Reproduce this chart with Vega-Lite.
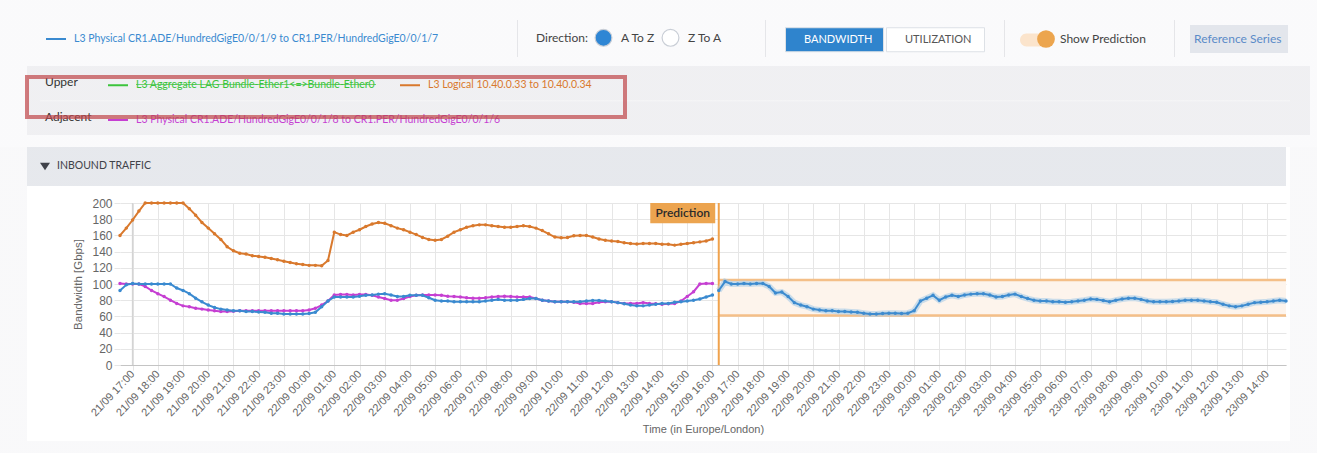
{
  "$schema": "https://vega.github.io/schema/vega-lite/v6.json",
  "width": 1166,
  "height": 162,
  "autosize": {"type": "none"},
  "padding": {"left": 120, "top": 203, "right": 31, "bottom": 88},
  "background": "#ffffff",
  "config": {
    "view": {"stroke": null},
    "axis": {"labelFont": "Liberation Sans", "titleFont": "Liberation Sans", "labelColor": "#666666", "titleColor": "#666666", "gridColor": "#e6e6e6", "tickColor": "#e6e6e6", "domainColor": "#c4c4c4", "titleFontWeight": "normal", "labelOverlap": false},
    "legend": {"labelFont": "Lato", "titleFont": "Lato", "padding": 0, "rowPadding": 0, "labelLimit": 1000, "titleLimit": 1000, "zindex": 1, "symbolOpacity": 1}
  },
  "datasets": {
    "hist": [
      {"t":"2023-09-21 16:30","logical":160,"physical":92,"adjacent":100.5},
      {"t":"2023-09-21 16:45","logical":169,"physical":99,"adjacent":100},
      {"t":"2023-09-21 17:00","logical":179,"physical":100.5,"adjacent":100},
      {"t":"2023-09-21 17:15","logical":190,"physical":100,"adjacent":100},
      {"t":"2023-09-21 17:30","logical":200,"physical":100,"adjacent":97},
      {"t":"2023-09-21 17:45","logical":200,"physical":100,"adjacent":92},
      {"t":"2023-09-21 18:00","logical":200,"physical":100,"adjacent":88},
      {"t":"2023-09-21 18:15","logical":200,"physical":100,"adjacent":84.5},
      {"t":"2023-09-21 18:30","logical":200,"physical":100,"adjacent":80},
      {"t":"2023-09-21 18:45","logical":200,"physical":95,"adjacent":76},
      {"t":"2023-09-21 19:00","logical":200,"physical":92,"adjacent":73},
      {"t":"2023-09-21 19:15","logical":193,"physical":88,"adjacent":72},
      {"t":"2023-09-21 19:30","logical":185,"physical":82.5,"adjacent":70},
      {"t":"2023-09-21 19:45","logical":176,"physical":78,"adjacent":69},
      {"t":"2023-09-21 20:00","logical":169,"physical":74,"adjacent":68},
      {"t":"2023-09-21 20:15","logical":162,"physical":71,"adjacent":67},
      {"t":"2023-09-21 20:30","logical":155,"physical":69,"adjacent":66},
      {"t":"2023-09-21 20:45","logical":146,"physical":68,"adjacent":66},
      {"t":"2023-09-21 21:00","logical":141,"physical":67,"adjacent":66.5},
      {"t":"2023-09-21 21:15","logical":138,"physical":67,"adjacent":67},
      {"t":"2023-09-21 21:30","logical":137,"physical":66,"adjacent":67},
      {"t":"2023-09-21 21:45","logical":135,"physical":66,"adjacent":67},
      {"t":"2023-09-21 22:00","logical":134,"physical":65.5,"adjacent":67},
      {"t":"2023-09-21 22:15","logical":133,"physical":65,"adjacent":67},
      {"t":"2023-09-21 22:30","logical":131.5,"physical":64,"adjacent":67},
      {"t":"2023-09-21 22:45","logical":130,"physical":64,"adjacent":67},
      {"t":"2023-09-21 23:00","logical":128,"physical":63,"adjacent":67},
      {"t":"2023-09-21 23:15","logical":126.5,"physical":63,"adjacent":67},
      {"t":"2023-09-21 23:30","logical":125,"physical":63,"adjacent":67},
      {"t":"2023-09-21 23:45","logical":124,"physical":63,"adjacent":67},
      {"t":"2023-09-22 00:00","logical":123,"physical":63.5,"adjacent":68},
      {"t":"2023-09-22 00:15","logical":123,"physical":65,"adjacent":70},
      {"t":"2023-09-22 00:30","logical":122.5,"physical":72,"adjacent":74},
      {"t":"2023-09-22 00:45","logical":129,"physical":79,"adjacent":79},
      {"t":"2023-09-22 01:00","logical":164,"physical":84,"adjacent":86.5},
      {"t":"2023-09-22 01:15","logical":161,"physical":84,"adjacent":87},
      {"t":"2023-09-22 01:30","logical":160,"physical":84,"adjacent":87},
      {"t":"2023-09-22 01:45","logical":164,"physical":84,"adjacent":86.5},
      {"t":"2023-09-22 02:00","logical":167,"physical":85,"adjacent":87},
      {"t":"2023-09-22 02:15","logical":171,"physical":86,"adjacent":87},
      {"t":"2023-09-22 02:30","logical":174,"physical":86.5,"adjacent":86},
      {"t":"2023-09-22 02:45","logical":176,"physical":87.5,"adjacent":84},
      {"t":"2023-09-22 03:00","logical":175,"physical":88,"adjacent":82},
      {"t":"2023-09-22 03:15","logical":172,"physical":86.5,"adjacent":80},
      {"t":"2023-09-22 03:30","logical":169,"physical":84.5,"adjacent":80},
      {"t":"2023-09-22 03:45","logical":167,"physical":84.5,"adjacent":82},
      {"t":"2023-09-22 04:00","logical":164,"physical":86,"adjacent":84.5},
      {"t":"2023-09-22 04:15","logical":161,"physical":86,"adjacent":86},
      {"t":"2023-09-22 04:30","logical":157.5,"physical":86,"adjacent":86.5},
      {"t":"2023-09-22 04:45","logical":155,"physical":83,"adjacent":86.5},
      {"t":"2023-09-22 05:00","logical":154,"physical":80,"adjacent":86.5},
      {"t":"2023-09-22 05:15","logical":155,"physical":79,"adjacent":86},
      {"t":"2023-09-22 05:30","logical":159,"physical":79,"adjacent":85},
      {"t":"2023-09-22 05:45","logical":164,"physical":78,"adjacent":84.5},
      {"t":"2023-09-22 06:00","logical":167,"physical":78,"adjacent":84},
      {"t":"2023-09-22 06:15","logical":170,"physical":78,"adjacent":83},
      {"t":"2023-09-22 06:30","logical":172,"physical":78,"adjacent":82.5},
      {"t":"2023-09-22 06:45","logical":173,"physical":78,"adjacent":82.5},
      {"t":"2023-09-22 07:00","logical":173,"physical":79,"adjacent":83},
      {"t":"2023-09-22 07:15","logical":172,"physical":80,"adjacent":84},
      {"t":"2023-09-22 07:30","logical":171,"physical":81,"adjacent":84.5},
      {"t":"2023-09-22 07:45","logical":170,"physical":80,"adjacent":85},
      {"t":"2023-09-22 08:00","logical":170,"physical":80,"adjacent":84.5},
      {"t":"2023-09-22 08:15","logical":171,"physical":80,"adjacent":84},
      {"t":"2023-09-22 08:30","logical":172,"physical":81,"adjacent":84},
      {"t":"2023-09-22 08:45","logical":171,"physical":82,"adjacent":84},
      {"t":"2023-09-22 09:00","logical":169,"physical":82,"adjacent":82},
      {"t":"2023-09-22 09:15","logical":166,"physical":80,"adjacent":80},
      {"t":"2023-09-22 09:30","logical":162,"physical":79,"adjacent":79},
      {"t":"2023-09-22 09:45","logical":158,"physical":78,"adjacent":78},
      {"t":"2023-09-22 10:00","logical":157,"physical":78,"adjacent":78},
      {"t":"2023-09-22 10:15","logical":157.5,"physical":78,"adjacent":78},
      {"t":"2023-09-22 10:30","logical":159.5,"physical":78,"adjacent":77.5},
      {"t":"2023-09-22 10:45","logical":160,"physical":78,"adjacent":76},
      {"t":"2023-09-22 11:00","logical":160,"physical":79,"adjacent":76},
      {"t":"2023-09-22 11:15","logical":158,"physical":79.5,"adjacent":76},
      {"t":"2023-09-22 11:30","logical":155.5,"physical":79.5,"adjacent":77.5},
      {"t":"2023-09-22 11:45","logical":154,"physical":79,"adjacent":78},
      {"t":"2023-09-22 12:00","logical":153,"physical":78,"adjacent":78},
      {"t":"2023-09-22 12:15","logical":152.5,"physical":77,"adjacent":77},
      {"t":"2023-09-22 12:30","logical":151,"physical":75.5,"adjacent":76},
      {"t":"2023-09-22 12:45","logical":150,"physical":74,"adjacent":76},
      {"t":"2023-09-22 13:00","logical":149.5,"physical":73,"adjacent":76},
      {"t":"2023-09-22 13:15","logical":150,"physical":73,"adjacent":77},
      {"t":"2023-09-22 13:30","logical":150,"physical":74,"adjacent":76},
      {"t":"2023-09-22 13:45","logical":150,"physical":75,"adjacent":75.5},
      {"t":"2023-09-22 14:00","logical":149,"physical":76,"adjacent":75},
      {"t":"2023-09-22 14:15","logical":149,"physical":76,"adjacent":75.5},
      {"t":"2023-09-22 14:30","logical":148,"physical":77.5,"adjacent":76},
      {"t":"2023-09-22 14:45","logical":149,"physical":78,"adjacent":79},
      {"t":"2023-09-22 15:00","logical":150,"physical":79,"adjacent":84.5},
      {"t":"2023-09-22 15:15","logical":151,"physical":80,"adjacent":90.5},
      {"t":"2023-09-22 15:30","logical":152,"physical":81.5,"adjacent":100},
      {"t":"2023-09-22 15:45","logical":153,"physical":84,"adjacent":100.5},
      {"t":"2023-09-22 16:00","logical":155.5,"physical":86.5,"adjacent":100.5}
    ],
    "pred": [
      {"t":"2023-09-22 16:15","v":92},{"t":"2023-09-22 16:30","v":103},{"t":"2023-09-22 16:45","v":100},{"t":"2023-09-22 17:00","v":100},
      {"t":"2023-09-22 17:15","v":100.5},{"t":"2023-09-22 17:30","v":100},{"t":"2023-09-22 17:45","v":100.5},{"t":"2023-09-22 18:00","v":100.5},
      {"t":"2023-09-22 18:15","v":97},{"t":"2023-09-22 18:30","v":89},{"t":"2023-09-22 18:45","v":90},{"t":"2023-09-22 19:00","v":84.5},
      {"t":"2023-09-22 19:15","v":77},{"t":"2023-09-22 19:30","v":74},{"t":"2023-09-22 19:45","v":72},{"t":"2023-09-22 20:00","v":69},
      {"t":"2023-09-22 20:15","v":68},{"t":"2023-09-22 20:30","v":67},{"t":"2023-09-22 20:45","v":67},{"t":"2023-09-22 21:00","v":66},
      {"t":"2023-09-22 21:15","v":66},{"t":"2023-09-22 21:30","v":65.5},{"t":"2023-09-22 21:45","v":65},{"t":"2023-09-22 22:00","v":64},
      {"t":"2023-09-22 22:15","v":63},{"t":"2023-09-22 22:30","v":63},{"t":"2023-09-22 22:45","v":63.5},{"t":"2023-09-22 23:00","v":64},
      {"t":"2023-09-22 23:15","v":64},{"t":"2023-09-22 23:30","v":63.5},{"t":"2023-09-22 23:45","v":64},
      {"t":"2023-09-23 00:00","v":67},{"t":"2023-09-23 00:15","v":79},{"t":"2023-09-23 00:30","v":82.5},{"t":"2023-09-23 00:45","v":86},
      {"t":"2023-09-23 01:00","v":80},{"t":"2023-09-23 01:15","v":84},{"t":"2023-09-23 01:30","v":86},{"t":"2023-09-23 01:45","v":84.5},
      {"t":"2023-09-23 02:00","v":86.5},{"t":"2023-09-23 02:15","v":87.5},{"t":"2023-09-23 02:30","v":88},{"t":"2023-09-23 02:45","v":88},
      {"t":"2023-09-23 03:00","v":86.5},{"t":"2023-09-23 03:15","v":84},{"t":"2023-09-23 03:30","v":84.5},{"t":"2023-09-23 03:45","v":86.5},
      {"t":"2023-09-23 04:00","v":87.5},{"t":"2023-09-23 04:15","v":84.5},{"t":"2023-09-23 04:30","v":82},{"t":"2023-09-23 04:45","v":80},
      {"t":"2023-09-23 05:00","v":79},{"t":"2023-09-23 05:15","v":79},{"t":"2023-09-23 05:30","v":78},{"t":"2023-09-23 05:45","v":78},
      {"t":"2023-09-23 06:00","v":77.5},{"t":"2023-09-23 06:15","v":78},{"t":"2023-09-23 06:30","v":79},{"t":"2023-09-23 06:45","v":80},
      {"t":"2023-09-23 07:00","v":81.5},{"t":"2023-09-23 07:15","v":81},{"t":"2023-09-23 07:30","v":79.5},{"t":"2023-09-23 07:45","v":78},
      {"t":"2023-09-23 08:00","v":80},{"t":"2023-09-23 08:15","v":81.5},{"t":"2023-09-23 08:30","v":82.5},{"t":"2023-09-23 08:45","v":82.5},
      {"t":"2023-09-23 09:00","v":81},{"t":"2023-09-23 09:15","v":79},{"t":"2023-09-23 09:30","v":78},{"t":"2023-09-23 09:45","v":78},
      {"t":"2023-09-23 10:00","v":78},{"t":"2023-09-23 10:15","v":78.5},{"t":"2023-09-23 10:30","v":79},{"t":"2023-09-23 10:45","v":80},
      {"t":"2023-09-23 11:00","v":80},{"t":"2023-09-23 11:15","v":80},{"t":"2023-09-23 11:30","v":79},{"t":"2023-09-23 11:45","v":78},
      {"t":"2023-09-23 12:00","v":77.5},{"t":"2023-09-23 12:15","v":75},{"t":"2023-09-23 12:30","v":73},{"t":"2023-09-23 12:45","v":72},
      {"t":"2023-09-23 13:00","v":73},{"t":"2023-09-23 13:15","v":75},{"t":"2023-09-23 13:30","v":77},{"t":"2023-09-23 13:45","v":77.5},
      {"t":"2023-09-23 14:00","v":78},{"t":"2023-09-23 14:15","v":79},{"t":"2023-09-23 14:30","v":80},{"t":"2023-09-23 14:45","v":79}
    ],
    "band": [{"start":"2023-09-22 16:15","end":"2023-09-23 14:45","upper":105,"lower":61}],
    "marker": [{"t":"2023-09-22 16:15","label":"Prediction"}]
  },
  "layer": [
    {
      "data": {"name": "band"},
      "mark": {"type": "rect", "fill": "#fdf4ec", "stroke": null},
      "encoding": {
        "x": {"field": "start", "type": "temporal", "title": "Time (in Europe/London)",
          "scale": {"domain": [{"year":2023,"month":9,"date":21,"hours":16,"minutes":30},{"year":2023,"month":9,"date":23,"hours":14,"minutes":45}]},
          "axis": {"format": "%d/%m %H:%M", "labelAngle": -47, "labelAlign": "right", "labelBaseline": "middle", "labelFontSize": 11, "labelPadding": 2, "tickSize": 5, "tickCount": 200, "grid": true, "labelOverlap": false, "labelFlush": false, "labelBound": false, "titleFontSize": 11, "titlePadding": 6, "domainColor": "#c4c4c4",
            "values": [
              {"year":2023,"month":9,"date":21,"hours":17},{"year":2023,"month":9,"date":21,"hours":18},{"year":2023,"month":9,"date":21,"hours":19},{"year":2023,"month":9,"date":21,"hours":20},{"year":2023,"month":9,"date":21,"hours":21},{"year":2023,"month":9,"date":21,"hours":22},{"year":2023,"month":9,"date":21,"hours":23},
              {"year":2023,"month":9,"date":22,"hours":0},{"year":2023,"month":9,"date":22,"hours":1},{"year":2023,"month":9,"date":22,"hours":2},{"year":2023,"month":9,"date":22,"hours":3},{"year":2023,"month":9,"date":22,"hours":4},{"year":2023,"month":9,"date":22,"hours":5},{"year":2023,"month":9,"date":22,"hours":6},{"year":2023,"month":9,"date":22,"hours":7},{"year":2023,"month":9,"date":22,"hours":8},{"year":2023,"month":9,"date":22,"hours":9},{"year":2023,"month":9,"date":22,"hours":10},{"year":2023,"month":9,"date":22,"hours":11},{"year":2023,"month":9,"date":22,"hours":12},{"year":2023,"month":9,"date":22,"hours":13},{"year":2023,"month":9,"date":22,"hours":14},{"year":2023,"month":9,"date":22,"hours":15},{"year":2023,"month":9,"date":22,"hours":16},{"year":2023,"month":9,"date":22,"hours":17},{"year":2023,"month":9,"date":22,"hours":18},{"year":2023,"month":9,"date":22,"hours":19},{"year":2023,"month":9,"date":22,"hours":20},{"year":2023,"month":9,"date":22,"hours":21},{"year":2023,"month":9,"date":22,"hours":22},{"year":2023,"month":9,"date":22,"hours":23},
              {"year":2023,"month":9,"date":23,"hours":0},{"year":2023,"month":9,"date":23,"hours":1},{"year":2023,"month":9,"date":23,"hours":2},{"year":2023,"month":9,"date":23,"hours":3},{"year":2023,"month":9,"date":23,"hours":4},{"year":2023,"month":9,"date":23,"hours":5},{"year":2023,"month":9,"date":23,"hours":6},{"year":2023,"month":9,"date":23,"hours":7},{"year":2023,"month":9,"date":23,"hours":8},{"year":2023,"month":9,"date":23,"hours":9},{"year":2023,"month":9,"date":23,"hours":10},{"year":2023,"month":9,"date":23,"hours":11},{"year":2023,"month":9,"date":23,"hours":12},{"year":2023,"month":9,"date":23,"hours":13},{"year":2023,"month":9,"date":23,"hours":14}
            ]}},
        "x2": {"field": "end"},
        "y": {"field": "upper", "type": "quantitative", "title": "Bandwidth [Gbps]",
          "scale": {"domain": [0, 200], "nice": false},
          "axis": {"values": [0,20,40,60,80,100,120,140,160,180,200], "tickCount": 50, "labelOverlap": false, "labelFontSize": 12, "labelPadding": 2, "tickSize": 6, "domain": false, "grid": true, "titleFontSize": 11.5, "titlePadding": 8}},
        "y2": {"field": "lower"}
      }
    },
    {
      "data": {"name": "band"},
      "mark": {"type": "rule", "color": "#f4bf88", "strokeWidth": 2.5},
      "encoding": {"x": {"field": "start", "type": "temporal", "title": "Time (in Europe/London)"}, "x2": {"field": "end"}, "y": {"field": "upper", "type": "quantitative", "title": "Bandwidth [Gbps]"}}
    },
    {
      "data": {"name": "band"},
      "mark": {"type": "rule", "color": "#f4bf88", "strokeWidth": 2.5},
      "encoding": {"x": {"field": "start", "type": "temporal", "title": "Time (in Europe/London)"}, "x2": {"field": "end"}, "y": {"field": "lower", "type": "quantitative", "title": "Bandwidth [Gbps]"}}
    },
    {
      "data": {"name": "hist"},
      "transform": [{"filter": "hours(datum.t) == 17 && minutes(datum.t) == 0 && date(datum.t) == 21"}],
      "mark": {"type": "rule", "color": "#d4d4d4", "strokeWidth": 1.5},
      "encoding": {"x": {"field": "t", "type": "temporal", "title": "Time (in Europe/London)"}}
    },
    {
      "data": {"name": "marker"},
      "mark": {"type": "rule", "color": "#f0a24c", "strokeWidth": 2},
      "encoding": {"x": {"field": "t", "type": "temporal", "title": "Time (in Europe/London)"}}
    },
    {
      "data": {"name": "marker"},
      "mark": {"type": "point", "shape": "M-2.14,0L-0.11,0L-0.11,0.63L-2.14,0.63Z", "size": 4096, "filled": true, "color": "#eca44f", "opacity": 1, "strokeWidth": 0},
      "encoding": {"x": {"field": "t", "type": "temporal", "title": "Time (in Europe/London)"}, "y": {"datum": 200, "type": "quantitative", "title": "Bandwidth [Gbps]"}}
    },
    {
      "data": {"name": "marker"},
      "mark": {"type": "text", "dx": -36, "dy": 10, "baseline": "middle", "align": "center", "font": "Lato", "fontSize": 12, "fontWeight": 600, "color": "#2b2b2b"},
      "encoding": {"x": {"field": "t", "type": "temporal", "title": "Time (in Europe/London)"}, "y": {"datum": 200, "type": "quantitative", "title": "Bandwidth [Gbps]"}, "text": {"field": "label"}}
    },
    {
      "data": {"name": "hist"},
      "mark": {"type": "line", "strokeWidth": 2},
      "encoding": {
        "x": {"field": "t", "type": "temporal", "title": "Time (in Europe/London)"},
        "y": {"field": "logical", "type": "quantitative", "title": "Bandwidth [Gbps]"},
        "color": {"datum": "L3 Logical 10.40.0.33 to 10.40.0.34", "type": "nominal",
          "scale": {"domain": ["L3 Aggregate LAG Bundle-Ether1<=>Bundle-Ether0", "L3 Logical 10.40.0.33 to 10.40.0.34"], "range": ["#3cc43c", "#d9792d"]},
          "legend": {"orient": "none", "legendX": -75, "legendY": -129, "title": "Upper", "titleOrient": "left", "titleAnchor": "middle", "titleBaseline": "middle", "titleFontSize": 12, "titleFontWeight": "normal", "titleColor": "#333333", "titlePadding": 29, "direction": "horizontal", "symbolType": "stroke", "symbolSize": 400, "symbolStrokeWidth": 2, "labelFontSize": 10.5, "labelOffset": 7, "columnPadding": 20,
            "labelColor": {"expr": "datum.value == 'L3 Logical 10.40.0.33 to 10.40.0.34' ? '#d9792d' : '#3cc43c'"}}}
      }
    },
    {
      "data": {"name": "hist"},
      "mark": {"type": "point", "filled": true, "size": 12, "color": "#d9792d", "opacity": 1},
      "encoding": {"x": {"field": "t", "type": "temporal", "title": "Time (in Europe/London)"}, "y": {"field": "logical", "type": "quantitative", "title": "Bandwidth [Gbps]"}}
    },
    {
      "data": {"name": "hist"},
      "mark": {"type": "line", "strokeWidth": 2},
      "encoding": {
        "x": {"field": "t", "type": "temporal", "title": "Time (in Europe/London)"},
        "y": {"field": "adjacent", "type": "quantitative", "title": "Bandwidth [Gbps]"},
        "color": {"datum": "L3 Physical CR1.ADE/HundredGigE0/0/1/8 to CR1.PER/HundredGigE0/0/1/6", "type": "nominal",
          "scale": {"range": ["#c63fd2"]},
          "legend": {"orient": "none", "legendX": -75, "legendY": -94, "title": "Adjacent", "titleOrient": "left", "titleAnchor": "middle", "titleBaseline": "middle", "titleFontSize": 12, "titleFontWeight": "normal", "titleColor": "#333333", "titlePadding": 15, "direction": "horizontal", "symbolType": "stroke", "symbolSize": 400, "symbolStrokeWidth": 2, "labelFontSize": 10.5, "labelOffset": 7, "labelColor": "#c63fd2"}}
      }
    },
    {
      "data": {"name": "hist"},
      "mark": {"type": "point", "filled": true, "size": 12, "color": "#c63fd2", "opacity": 1},
      "encoding": {"x": {"field": "t", "type": "temporal", "title": "Time (in Europe/London)"}, "y": {"field": "adjacent", "type": "quantitative", "title": "Bandwidth [Gbps]"}}
    },
    {
      "data": {"name": "hist"},
      "mark": {"type": "line", "strokeWidth": 2},
      "encoding": {
        "x": {"field": "t", "type": "temporal", "title": "Time (in Europe/London)"},
        "y": {"field": "physical", "type": "quantitative", "title": "Bandwidth [Gbps]"},
        "color": {"datum": "L3 Physical CR1.ADE/HundredGigE0/0/1/9 to CR1.PER/HundredGigE0/0/1/7", "type": "nominal",
          "scale": {"range": ["#3a8ad0"]},
          "legend": {"orient": "none", "legendX": -75, "legendY": -175, "title": null, "symbolType": "stroke", "symbolSize": 400, "symbolStrokeWidth": 2, "labelFontSize": 10.5, "labelOffset": 7, "labelColor": "#3a8ad0"}}
      }
    },
    {
      "data": {"name": "hist"},
      "mark": {"type": "point", "filled": true, "size": 12, "color": "#3a8ad0", "opacity": 1},
      "encoding": {"x": {"field": "t", "type": "temporal", "title": "Time (in Europe/London)"}, "y": {"field": "physical", "type": "quantitative", "title": "Bandwidth [Gbps]"}}
    },
    {
      "data": {"name": "pred"},
      "mark": {"type": "line", "strokeWidth": 6, "color": "#a9cbe8", "opacity": 0.6},
      "encoding": {"x": {"field": "t", "type": "temporal", "title": "Time (in Europe/London)"}, "y": {"field": "v", "type": "quantitative", "title": "Bandwidth [Gbps]"}}
    },
    {
      "data": {"name": "pred"},
      "mark": {"type": "line", "strokeWidth": 2, "color": "#3d8bcf"},
      "encoding": {"x": {"field": "t", "type": "temporal", "title": "Time (in Europe/London)"}, "y": {"field": "v", "type": "quantitative", "title": "Bandwidth [Gbps]"}}
    },
    {
      "data": {"name": "pred"},
      "mark": {"type": "point", "filled": true, "size": 12, "color": "#3d8bcf", "opacity": 1},
      "encoding": {"x": {"field": "t", "type": "temporal", "title": "Time (in Europe/London)"}, "y": {"field": "v", "type": "quantitative", "title": "Bandwidth [Gbps]"}}
    },
    {
      "data": {"values": [{}]},
      "mark": {"type": "point", "size": 0, "filled": true},
      "encoding": {"color": {"datum": 0, "type": "quantitative", "scale": {"domain": [0, 1], "range": ["#f8f8fa", "#f8f8fa"]},
        "legend": {"orient": "none", "legendX": -120, "legendY": -203, "title": null, "direction": "horizontal", "gradientLength": 1317, "gradientThickness": 147, "gradientStrokeWidth": 0, "labelExpr": "''", "zindex": 0}}}
    },
    {
      "data": {"values": [{}]},
      "mark": {"type": "point", "size": 0, "filled": true},
      "encoding": {"color": {"datum": 0, "type": "quantitative", "scale": {"domain": [0, 1], "range": ["#f6f6f8", "#f6f6f8"]},
        "legend": {"orient": "none", "legendX": -120, "legendY": -56, "title": null, "direction": "vertical", "gradientLength": 306, "gradientThickness": 27, "gradientStrokeWidth": 0, "labelExpr": "''", "zindex": 0}}}
    },
    {
      "data": {"values": [{}]},
      "mark": {"type": "point", "size": 0, "filled": true},
      "encoding": {"color": {"datum": 0, "type": "quantitative", "scale": {"domain": [0, 1], "range": ["#f6f6f8", "#f6f6f8"]},
        "legend": {"orient": "none", "legendX": -93, "legendY": 238, "title": null, "direction": "horizontal", "gradientLength": 1290, "gradientThickness": 12, "gradientStrokeWidth": 0, "labelExpr": "''", "zindex": 0}}}
    },
    {
      "data": {"values": [{}]},
      "mark": {"type": "point", "size": 0, "filled": true},
      "encoding": {"color": {"datum": 0, "type": "quantitative", "scale": {"domain": [0, 1], "range": ["#f6f6f8", "#f6f6f8"]},
        "legend": {"orient": "none", "legendX": 1170, "legendY": -56, "title": null, "direction": "vertical", "gradientLength": 294, "gradientThickness": 27, "gradientStrokeWidth": 0, "labelExpr": "''", "zindex": 0}}}
    },
    {
      "data": {"values": [{}]},
      "mark": {"type": "point", "size": 0, "filled": true},
      "encoding": {"color": {"datum": 0, "type": "quantitative", "scale": {"domain": [0, 1], "range": ["#ebebee", "#ebebee"]},
        "legend": {"orient": "none", "legendX": -93, "legendY": -137, "title": null, "direction": "horizontal", "gradientLength": 1283, "gradientThickness": 69, "gradientStrokeWidth": 0, "labelExpr": "''", "zindex": 0}}}
    },
    {
      "data": {"values": [{}]},
      "mark": {"type": "point", "size": 0, "filled": true},
      "encoding": {"color": {"datum": 0, "type": "quantitative", "scale": {"domain": [0, 1], "range": ["#f6f6f7", "#f6f6f7"]},
        "legend": {"orient": "none", "legendX": -80, "legendY": -103, "title": null, "direction": "horizontal", "gradientLength": 1250, "gradientThickness": 1.5, "gradientStrokeWidth": 0, "labelExpr": "''", "zindex": 0}}}
    },
    {
      "data": {"values": [{}]},
      "mark": {"type": "point", "size": 0, "filled": true},
      "encoding": {"color": {"datum": 0, "type": "quantitative", "scale": {"domain": [0, 1], "range": ["#dcdde1", "#dcdde1"]},
        "legend": {"orient": "none", "legendX": 397, "legendY": -183, "title": null, "direction": "vertical", "gradientLength": 37, "gradientThickness": 1, "gradientStrokeWidth": 0, "labelExpr": "''", "zindex": 0}}}
    },
    {
      "data": {"values": [{}]},
      "mark": {"type": "point", "size": 0, "filled": true},
      "encoding": {"color": {"datum": 0, "type": "quantitative", "scale": {"domain": [0, 1], "range": ["#dcdde1", "#dcdde1"]},
        "legend": {"orient": "none", "legendX": 645, "legendY": -183, "title": null, "direction": "vertical", "gradientLength": 37, "gradientThickness": 1, "gradientStrokeWidth": 0, "labelExpr": "''", "zindex": 0}}}
    },
    {
      "data": {"values": [{}]},
      "mark": {"type": "point", "size": 0, "filled": true},
      "encoding": {"color": {"datum": 0, "type": "quantitative", "scale": {"domain": [0, 1], "range": ["#dcdde1", "#dcdde1"]},
        "legend": {"orient": "none", "legendX": 884, "legendY": -183, "title": null, "direction": "vertical", "gradientLength": 37, "gradientThickness": 1, "gradientStrokeWidth": 0, "labelExpr": "''", "zindex": 0}}}
    },
    {
      "data": {"values": [{}]},
      "mark": {"type": "point", "size": 0, "filled": true},
      "encoding": {"color": {"datum": 0, "type": "quantitative", "scale": {"domain": [0, 1], "range": ["#dcdde1", "#dcdde1"]},
        "legend": {"orient": "none", "legendX": 1054, "legendY": -183, "title": null, "direction": "vertical", "gradientLength": 37, "gradientThickness": 1, "gradientStrokeWidth": 0, "labelExpr": "''", "zindex": 0}}}
    },
    {
      "data": {"values": [{}]},
      "mark": {"type": "point", "size": 0, "filled": true},
      "encoding": {"color": {"datum": 0, "type": "quantitative", "scale": {"domain": [0, 1], "range": ["#dcdfe5", "#dcdfe5"]},
        "legend": {"orient": "none", "legendX": -93, "legendY": -56, "title": null, "direction": "horizontal", "gradientLength": 1259, "gradientThickness": 39, "gradientStrokeWidth": 0, "labelExpr": "''", "zindex": 0}}}
    },
    {
      "data": {"values": [{}]},
      "mark": {"type": "point", "size": 0, "filled": true},
      "encoding": {"color": {"datum": "INBOUND TRAFFIC", "type": "nominal", "scale": {"range": ["#3f4249"]},
        "legend": {"orient": "none", "legendX": -85, "legendY": -47, "title": null, "symbolType": "M-0.5,-0.32L0.5,-0.32L0,0.42Z", "symbolSize": 400, "symbolStrokeWidth": 0, "labelFontSize": 10.5, "labelColor": "#3f4249", "labelOffset": 2, "zindex": 2}}}
    },
    {
      "data": {"values": [{}]},
      "mark": {"type": "point", "size": 0, "filled": true},
      "encoding": {"color": {"datum": 0, "type": "quantitative", "scale": {"domain": [0, 1], "range": ["#3cc43c", "#3cc43c"]},
        "legend": {"orient": "none", "legendX": 16, "legendY": -119, "title": null, "direction": "horizontal", "gradientLength": 240, "gradientThickness": 1, "gradientStrokeWidth": 0, "labelExpr": "''", "zindex": 2}}}
    },
    {
      "data": {"values": [{}]},
      "mark": {"type": "point", "size": 0, "filled": true},
      "encoding": {"color": {"datum": 0, "type": "quantitative", "scale": {"domain": [0, 1], "range": ["rgba(255,255,255,0)", "rgba(255,255,255,0)"]},
        "legend": {"orient": "none", "legendX": -93, "legendY": -126, "title": null, "direction": "horizontal", "gradientLength": 598, "gradientThickness": 40, "gradientStrokeWidth": 4, "gradientStrokeColor": "#c0464a", "labelExpr": "''", "zindex": 2}}}
    },
    {
      "data": {"values": [{}]},
      "mark": {"type": "point", "size": 0, "filled": true},
      "encoding": {"color": {"datum": "A To Z", "type": "nominal", "scale": {"domain": ["A To Z", "Z To A"], "range": ["#2f86d4", "#ffffff"]},
        "legend": {"orient": "none", "legendX": 416, "legendY": -175, "title": "Direction:", "titleOrient": "left", "titleAnchor": "middle", "titleBaseline": "middle", "titleFontSize": 12, "titleFontWeight": "normal", "titleColor": "#444444", "titlePadding": 6, "direction": "horizontal", "symbolType": "circle", "symbolSize": 283, "symbolStrokeColor": "#c9ced6", "symbolStrokeWidth": 1.2, "labelFontSize": 12, "labelColor": "#444444", "labelOffset": 8, "columnPadding": 4}}}
    },
    {
      "data": {"values": [{}]},
      "mark": {"type": "point", "size": 0, "filled": true},
      "encoding": {"color": {"datum": "BANDWIDTH", "type": "nominal", "scale": {"domain": ["BANDWIDTH", "UTILIZATION"], "range": ["#2f84cd", "#ffffff"]},
        "legend": {"orient": "none", "legendX": 665, "legendY": -213, "title": null, "direction": "horizontal", "symbolType": "M-1,-0.245L1,-0.245L1,0.245L-1,0.245Z", "symbolSize": 9604, "symbolStrokeColor": "#dde1e6", "symbolStrokeWidth": 1, "labelFontSize": 11, "labelOffset": -80, "columnPadding": -5,
          "labelColor": {"expr": "datum.value == 'BANDWIDTH' ? '#ffffff' : '#555555'"}}}}
    },
    {
      "data": {"values": [{}]},
      "mark": {"type": "point", "size": 0, "filled": true},
      "encoding": {"color": {"datum": "toggle", "type": "nominal", "scale": {"range": ["#fbe4cc"]},
        "legend": {"orient": "none", "legendX": 900, "legendY": -180, "title": null, "symbolType": "M-0.62,-0.38L0.62,-0.38A0.38,0.38 0 0 1 0.62,0.38L-0.62,0.38A0.38,0.38 0 0 1 -0.62,-0.38Z", "symbolSize": 1156, "symbolStrokeWidth": 0, "labelExpr": "''"}}}
    },
    {
      "data": {"values": [{}]},
      "mark": {"type": "point", "size": 0, "filled": true},
      "encoding": {"color": {"datum": "Show Prediction", "type": "nominal", "scale": {"range": ["#eca54e"]},
        "legend": {"orient": "none", "legendX": 917, "legendY": -173, "title": null, "symbolType": "circle", "symbolSize": 314, "symbolStrokeWidth": 0, "labelFontSize": 12, "labelColor": "#444444", "labelOffset": 5, "zindex": 2}}}
    },
    {
      "data": {"values": [{}]},
      "mark": {"type": "point", "size": 0, "filled": true},
      "encoding": {"color": {"datum": "Reference Series", "type": "nominal", "scale": {"range": ["#e3e6ec"]},
        "legend": {"orient": "none", "legendX": 1070, "legendY": -213, "title": null, "symbolType": "M-1,-0.286L1,-0.286L1,0.286L-1,0.286Z", "symbolSize": 9604, "symbolStrokeWidth": 0, "labelFontSize": 12, "labelColor": "#5b8bc8", "labelOffset": -94}}}
    }
  ],
  "resolve": {"scale": {"color": "independent"}, "legend": {"color": "independent"}}
}
